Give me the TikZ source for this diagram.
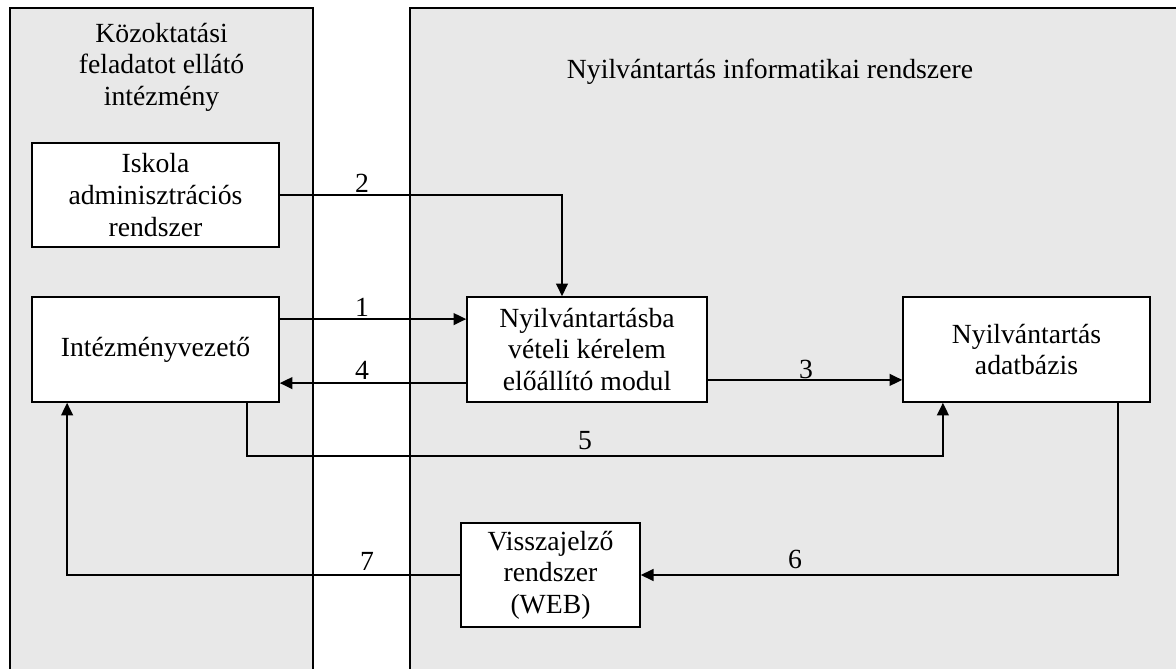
\documentclass[tikz,border=0pt]{standalone}
\usepackage{fontspec}
\setmainfont{Liberation Serif}
\definecolor{panelgray}{RGB}{232, 232, 232}
\usetikzlibrary{arrows.meta, positioning, calc}

\begin{document}
\begin{tikzpicture}[
    font=\fontsize{19.7}{22.5}\selectfont,
    panel/.style={draw=black, fill=panelgray, line width=1.4pt},
    modbox/.style={draw=black, fill=white, line width=1.2pt, align=center, inner sep=0pt},
    arr/.style={-{Triangle[length=9pt, width=8.5pt]}, line width=1.1pt},
    lbl/.style={inner sep=0pt}
  ]
  \useasboundingbox (0,0) rectangle (29.4,-16.725);
  \clip (0,0) rectangle (29.4,-16.725);

  % Panels
  \draw[panel] (0.25,-0.2) rectangle (7.825,-17.5);
  \draw[panel] (10.25,-0.2) rectangle (30.5,-17.5);
  \node[align=center] (inttitle) at (4.04,-1.68) {Közoktatási\\feladatot ellátó\\intézmény};
  \node (rsztitle) at (19.25,-1.8) {Nyilvántartás informatikai rendszere};

  % Modules
  \node[modbox, minimum width=6.175cm, minimum height=2.6cm] (iskola) at (3.8875,-4.875) {Iskola\\adminisztrációs\\rendszer};
  \node[modbox, minimum width=6.175cm, minimum height=2.625cm] (intez) at (3.8875,-8.7375) {Intézményvezető};
  \node[modbox, minimum width=6.0cm, minimum height=2.625cm] (kerelem) at (14.675,-8.7375) {Nyilvántartásba\\vételi kérelem\\előállító modul};
  \node[modbox, minimum width=6.175cm, minimum height=2.625cm] (adatb) at (25.6625,-8.7375) {Nyilvántartás\\adatbázis};
  \node[modbox, minimum width=4.475cm, minimum height=2.6cm] (vissza) at (13.7625,-14.375) {Visszajelző\\rendszer\\(WEB)};

  % Connectors
  \draw[arr] (iskola.east) -| ([xshift=-0.625cm]kerelem.north);
  \draw[arr] ([yshift=0.76cm]intez.east) -- ([yshift=0.76cm]kerelem.west);
  \draw[arr] ([yshift=-0.84cm]kerelem.west) -- ([yshift=-0.84cm]intez.east);
  \draw[arr] ([yshift=-0.76cm]kerelem.east) -- ([yshift=-0.76cm]adatb.west);
  \draw[arr] ([xshift=2.29cm]intez.south) -- ++(0,-1.325) -| ([xshift=-2.09cm]adatb.south);
  \draw[arr] ([xshift=2.29cm]adatb.south) |- (vissza.east);
  \draw[arr] (vissza.west) -| ([xshift=-2.21cm]intez.south);

  % Connector numbers
  \node[lbl] (n1) at (9.05,-7.675) {1};
  \node[lbl] (n2) at (9.05,-4.575) {2};
  \node[lbl] (n3) at (20.15,-9.225) {3};
  \node[lbl] (n4) at (9.05,-9.25) {4};
  \node[lbl] (n5) at (14.625,-11.025) {5};
  \node[lbl] (n6) at (19.875,-13.975) {6};
  \node[lbl] (n7) at (9.175,-14.025) {7};
\end{tikzpicture}
\end{document}
